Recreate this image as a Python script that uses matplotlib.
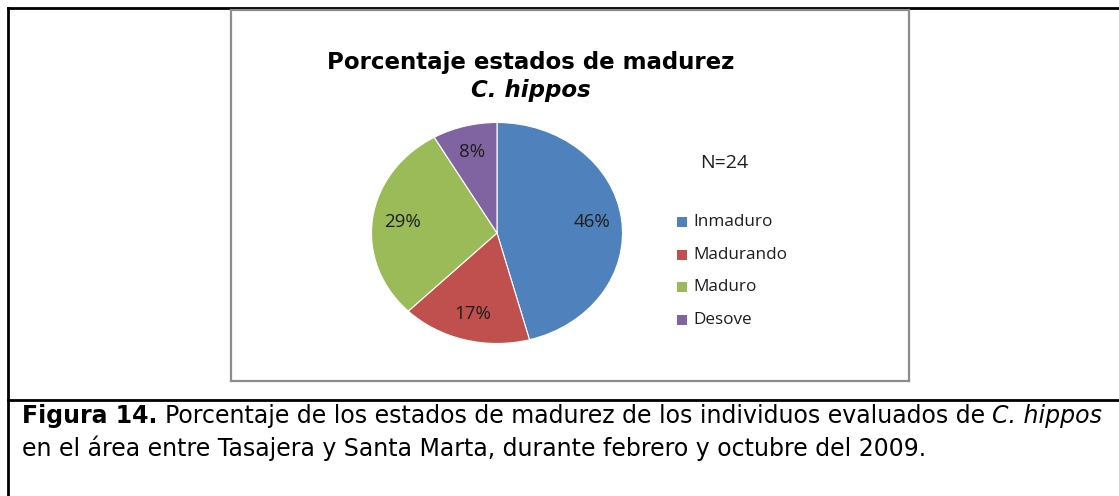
import matplotlib
matplotlib.use("Agg")
import matplotlib.pyplot as plt
from matplotlib.lines import Line2D
from matplotlib.patches import Rectangle

# ---------------- Data ----------------
estados = ["Inmaduro", "Madurando", "Maduro", "Desove"]
individuos = [11, 4, 7, 2]   # N=24
colores = ["#4F81BD", "#C0504D", "#9BBB59", "#8064A2"]

W, H = 1119, 496
plt.rcParams["font.family"] = ["DejaVu Sans"]

fig = plt.figure(figsize=(W / 100, H / 100), dpi=100)
renderer = fig.canvas.get_renderer()


# pixel (from top-left) -> figure coords
def fx(px):
    return px / W


def fy(py):
    return 1 - py / H


def line(x0, y0, x1, y1, color="black", lw=2.0):
    fig.add_artist(Line2D([fx(x0), fx(x1)], [fy(y0), fy(y1)], color=color,
                          lw=lw, transform=fig.transFigure))


# writes pieces of text with different styles one after another on a line
def write_runs(runs, x0, base, size):
    sp = fig.text(0, 0, "x x", fontsize=size)
    nsp = fig.text(0, 0, "xx", fontsize=size)
    space = (sp.get_window_extent(renderer).width
             - nsp.get_window_extent(renderer).width)
    sp.remove()
    nsp.remove()
    x = x0
    for txt, weight, style in runs:
        t = fig.text(fx(x), fy(base), txt, ha="left", va="baseline",
                     fontsize=size, fontweight=weight, style=style)
        x += t.get_window_extent(renderer).width + space


# ---------------- Table borders ----------------
line(8, 8, W, 8)
line(8, 8, 8, H)
line(8, 400, W, 400)

# gray chart frame
g = "#8c8c8c"
line(231, 10, 909, 10, g, 1.6)
line(231, 381, 909, 381, g, 1.6)
line(231, 10, 231, 381, g, 1.6)
line(909, 10, 909, 381, g, 1.6)

# ---------------- Pie ----------------
cx, cy, rx, ry = 497, 233, 125.5, 110.5
ax = fig.add_axes([fx(cx - rx), fy(cy + ry), 2 * rx / W, 2 * ry / H])
wedges, texts, autotexts = ax.pie(individuos, colors=colores, startangle=90,
                                  counterclock=False, autopct="%1.0f%%",
                                  pctdistance=0.76,
                                  wedgeprops=dict(edgecolor="white", linewidth=0.8),
                                  textprops=dict(fontsize=13.5, color="#1e1e1e",
                                                 family="Open Sans"))
ax.set_aspect("auto")
ax.set_xlim(-1, 1)
ax.set_ylim(-1, 1)

# ---------------- Title ----------------
fig.text(fx(531), fy(62), "Porcentaje estados de madurez", ha="center",
         va="center", fontsize=16.5, fontweight="bold")
fig.text(fx(531), fy(90), "C. hippos", ha="center", va="center",
         fontsize=16.5, fontweight="bold", style="italic")

# ---------------- N and legend ----------------
fig.text(fx(724), fy(163), "N=24", ha="center", va="center", fontsize=14,
         family="Open Sans", color="#1e1e1e")

leg_y = [222, 255, 287, 320]
for nombre, c, yy in zip(estados, colores, leg_y):
    fig.add_artist(Rectangle((fx(677), fy(yy + 5)), 10 / W, 10 / H,
                             facecolor=c, edgecolor="none",
                             transform=fig.transFigure))
    fig.text(fx(693), fy(yy), nombre, ha="left", va="center", fontsize=12.3,
             family="Open Sans", color="#1e1e1e")

# ---------------- Caption ----------------
line1 = [("Figura 14.", "bold", "normal"),
         ("Porcentaje de los estados de madurez de los individuos evaluados de",
          "normal", "normal"),
         ("C. hippos", "normal", "italic")]
line2 = [("en el área entre Tasajera y Santa Marta, durante febrero y octubre del 2009.",
          "normal", "normal")]
write_runs(line1, 22, 423, 17)
write_runs(line2, 22, 456, 17)

fig.savefig("out.png", dpi=100)
